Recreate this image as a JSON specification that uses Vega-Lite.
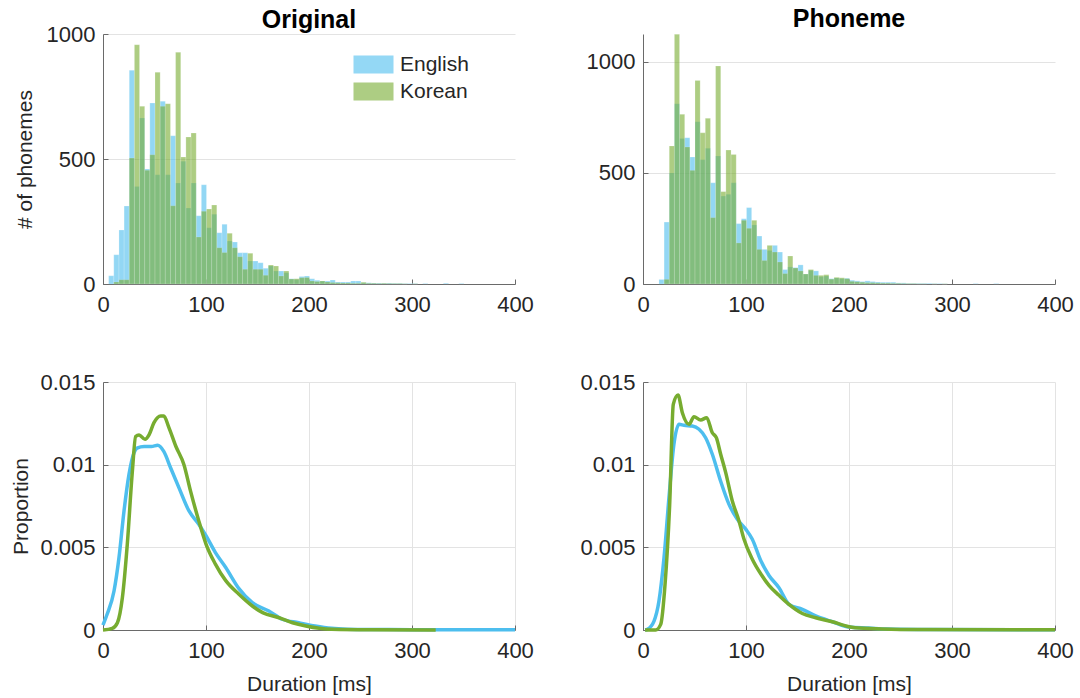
{
  "$schema": "https://vega.github.io/schema/vega-lite/v6.json",
  "padding": {"left": 9, "top": 7, "right": 5, "bottom": 5},
  "background": "white",
  "bounds": "flush",
  "columns": 2,
  "spacing": {"row": 98, "column": 128},
  "resolve": {"scale": {"x": "independent", "y": "independent"}, "legend": {"color": "independent"}},
  "config": {
    "font": "Liberation Sans",
    "view": {"stroke": null},
    "axis": {
      "labelFontSize": 22, "titleFontSize": 21, "labelColor": "#262626", "titleColor": "#262626",
      "titleFontWeight": "normal", "gridColor": "#e3e3e3", "domainColor": "#6a6a6a", "domainWidth": 1,
      "ticks": true, "tickSize": -5, "tickColor": "#6a6a6a", "labelFlush": false, "labelOverlap": false
    },
    "axisX": {"labelPadding": 15, "titlePadding": 12},
    "axisY": {"labelPadding": 13},
    "title": {"fontSize": 25, "fontWeight": "bold", "color": "#000000"}
  },
  "datasets": {
    "hist": [
      {"p":"O","l":"English","a":5,"b":10,"n":33},
      {"p":"O","l":"English","a":10,"b":15,"n":117},
      {"p":"O","l":"English","a":15,"b":20,"n":216},
      {"p":"O","l":"English","a":20,"b":25,"n":312},
      {"p":"O","l":"English","a":25,"b":30,"n":855},
      {"p":"O","l":"English","a":30,"b":35,"n":390},
      {"p":"O","l":"English","a":35,"b":40,"n":664},
      {"p":"O","l":"English","a":40,"b":45,"n":460},
      {"p":"O","l":"English","a":45,"b":50,"n":724},
      {"p":"O","l":"English","a":50,"b":55,"n":437},
      {"p":"O","l":"English","a":55,"b":60,"n":731},
      {"p":"O","l":"English","a":60,"b":65,"n":437},
      {"p":"O","l":"English","a":65,"b":70,"n":593},
      {"p":"O","l":"English","a":70,"b":75,"n":404},
      {"p":"O","l":"English","a":75,"b":80,"n":491},
      {"p":"O","l":"English","a":80,"b":85,"n":304},
      {"p":"O","l":"English","a":85,"b":90,"n":404},
      {"p":"O","l":"English","a":90,"b":95,"n":273},
      {"p":"O","l":"English","a":95,"b":100,"n":397},
      {"p":"O","l":"English","a":100,"b":105,"n":225},
      {"p":"O","l":"English","a":105,"b":110,"n":279},
      {"p":"O","l":"English","a":110,"b":115,"n":205},
      {"p":"O","l":"English","a":115,"b":120,"n":239},
      {"p":"O","l":"English","a":120,"b":125,"n":172},
      {"p":"O","l":"English","a":125,"b":130,"n":168},
      {"p":"O","l":"English","a":130,"b":135,"n":125},
      {"p":"O","l":"English","a":135,"b":140,"n":125},
      {"p":"O","l":"English","a":140,"b":145,"n":92},
      {"p":"O","l":"English","a":145,"b":150,"n":92},
      {"p":"O","l":"English","a":150,"b":155,"n":85},
      {"p":"O","l":"English","a":155,"b":160,"n":63},
      {"p":"O","l":"English","a":160,"b":165,"n":72},
      {"p":"O","l":"English","a":165,"b":170,"n":52},
      {"p":"O","l":"English","a":170,"b":175,"n":52},
      {"p":"O","l":"English","a":175,"b":180,"n":45},
      {"p":"O","l":"English","a":180,"b":185,"n":21},
      {"p":"O","l":"English","a":185,"b":190,"n":18},
      {"p":"O","l":"English","a":190,"b":195,"n":30},
      {"p":"O","l":"English","a":195,"b":200,"n":32},
      {"p":"O","l":"English","a":200,"b":205,"n":21},
      {"p":"O","l":"English","a":205,"b":210,"n":15},
      {"p":"O","l":"English","a":210,"b":215,"n":12},
      {"p":"O","l":"English","a":215,"b":220,"n":12},
      {"p":"O","l":"English","a":220,"b":225,"n":16},
      {"p":"O","l":"English","a":225,"b":230,"n":8},
      {"p":"O","l":"English","a":230,"b":235,"n":8},
      {"p":"O","l":"English","a":235,"b":240,"n":8},
      {"p":"O","l":"English","a":240,"b":245,"n":12},
      {"p":"O","l":"English","a":245,"b":250,"n":12},
      {"p":"O","l":"English","a":250,"b":255,"n":5},
      {"p":"O","l":"English","a":255,"b":260,"n":5},
      {"p":"O","l":"English","a":260,"b":265,"n":4},
      {"p":"O","l":"English","a":265,"b":270,"n":4},
      {"p":"O","l":"English","a":270,"b":275,"n":3},
      {"p":"O","l":"English","a":275,"b":280,"n":4},
      {"p":"O","l":"English","a":280,"b":285,"n":3},
      {"p":"O","l":"English","a":285,"b":290,"n":3},
      {"p":"O","l":"English","a":290,"b":295,"n":2},
      {"p":"O","l":"English","a":295,"b":300,"n":2},
      {"p":"O","l":"English","a":300,"b":305,"n":2},
      {"p":"O","l":"English","a":310,"b":315,"n":2},
      {"p":"O","l":"English","a":330,"b":335,"n":3},
      {"p":"O","l":"English","a":345,"b":350,"n":2},
      {"p":"O","l":"Korean","a":10,"b":15,"n":8},
      {"p":"O","l":"Korean","a":15,"b":20,"n":17},
      {"p":"O","l":"Korean","a":20,"b":25,"n":17},
      {"p":"O","l":"Korean","a":25,"b":30,"n":504},
      {"p":"O","l":"Korean","a":30,"b":35,"n":957},
      {"p":"O","l":"Korean","a":35,"b":40,"n":711},
      {"p":"O","l":"Korean","a":40,"b":45,"n":455},
      {"p":"O","l":"Korean","a":45,"b":50,"n":517},
      {"p":"O","l":"Korean","a":50,"b":55,"n":847},
      {"p":"O","l":"Korean","a":55,"b":60,"n":711},
      {"p":"O","l":"Korean","a":60,"b":65,"n":721},
      {"p":"O","l":"Korean","a":65,"b":70,"n":313},
      {"p":"O","l":"Korean","a":70,"b":75,"n":927},
      {"p":"O","l":"Korean","a":75,"b":80,"n":508},
      {"p":"O","l":"Korean","a":80,"b":85,"n":588},
      {"p":"O","l":"Korean","a":85,"b":90,"n":604},
      {"p":"O","l":"Korean","a":90,"b":95,"n":188},
      {"p":"O","l":"Korean","a":95,"b":100,"n":291},
      {"p":"O","l":"Korean","a":100,"b":105,"n":300},
      {"p":"O","l":"Korean","a":105,"b":110,"n":316},
      {"p":"O","l":"Korean","a":110,"b":115,"n":145},
      {"p":"O","l":"Korean","a":115,"b":120,"n":126},
      {"p":"O","l":"Korean","a":120,"b":125,"n":203},
      {"p":"O","l":"Korean","a":125,"b":130,"n":145},
      {"p":"O","l":"Korean","a":130,"b":135,"n":109},
      {"p":"O","l":"Korean","a":135,"b":140,"n":59},
      {"p":"O","l":"Korean","a":140,"b":145,"n":123},
      {"p":"O","l":"Korean","a":145,"b":150,"n":59},
      {"p":"O","l":"Korean","a":150,"b":155,"n":59},
      {"p":"O","l":"Korean","a":155,"b":160,"n":35},
      {"p":"O","l":"Korean","a":160,"b":165,"n":76},
      {"p":"O","l":"Korean","a":165,"b":170,"n":72},
      {"p":"O","l":"Korean","a":170,"b":175,"n":32},
      {"p":"O","l":"Korean","a":175,"b":180,"n":52},
      {"p":"O","l":"Korean","a":180,"b":185,"n":20},
      {"p":"O","l":"Korean","a":185,"b":190,"n":21},
      {"p":"O","l":"Korean","a":190,"b":195,"n":25},
      {"p":"O","l":"Korean","a":195,"b":200,"n":26},
      {"p":"O","l":"Korean","a":200,"b":205,"n":12},
      {"p":"O","l":"Korean","a":205,"b":210,"n":10},
      {"p":"O","l":"Korean","a":210,"b":215,"n":12},
      {"p":"O","l":"Korean","a":215,"b":220,"n":8},
      {"p":"O","l":"Korean","a":220,"b":225,"n":6},
      {"p":"O","l":"Korean","a":225,"b":230,"n":5},
      {"p":"O","l":"Korean","a":230,"b":235,"n":4},
      {"p":"O","l":"Korean","a":235,"b":240,"n":4},
      {"p":"O","l":"Korean","a":240,"b":245,"n":3},
      {"p":"O","l":"Korean","a":245,"b":250,"n":3},
      {"p":"O","l":"Korean","a":250,"b":255,"n":7},
      {"p":"O","l":"Korean","a":255,"b":260,"n":3},
      {"p":"O","l":"Korean","a":260,"b":265,"n":3},
      {"p":"O","l":"Korean","a":265,"b":270,"n":2},
      {"p":"O","l":"Korean","a":270,"b":275,"n":3},
      {"p":"O","l":"Korean","a":275,"b":280,"n":2},
      {"p":"O","l":"Korean","a":280,"b":285,"n":2},
      {"p":"O","l":"Korean","a":285,"b":290,"n":2},
      {"p":"O","l":"Korean","a":290,"b":295,"n":1},
      {"p":"O","l":"Korean","a":300,"b":305,"n":1},
      {"p":"P","l":"English","a":15,"b":20,"n":20},
      {"p":"P","l":"English","a":20,"b":25,"n":279},
      {"p":"P","l":"English","a":25,"b":30,"n":500},
      {"p":"P","l":"English","a":30,"b":35,"n":812},
      {"p":"P","l":"English","a":35,"b":40,"n":655},
      {"p":"P","l":"English","a":40,"b":45,"n":659},
      {"p":"P","l":"English","a":45,"b":50,"n":572},
      {"p":"P","l":"English","a":50,"b":55,"n":731},
      {"p":"P","l":"English","a":55,"b":60,"n":560},
      {"p":"P","l":"English","a":60,"b":65,"n":611},
      {"p":"P","l":"English","a":65,"b":70,"n":456},
      {"p":"P","l":"English","a":70,"b":75,"n":577},
      {"p":"P","l":"English","a":75,"b":80,"n":396},
      {"p":"P","l":"English","a":80,"b":85,"n":404},
      {"p":"P","l":"English","a":85,"b":90,"n":456},
      {"p":"P","l":"English","a":90,"b":95,"n":272},
      {"p":"P","l":"English","a":95,"b":100,"n":294},
      {"p":"P","l":"English","a":100,"b":105,"n":344},
      {"p":"P","l":"English","a":105,"b":110,"n":266},
      {"p":"P","l":"English","a":110,"b":115,"n":216},
      {"p":"P","l":"English","a":115,"b":120,"n":156},
      {"p":"P","l":"English","a":120,"b":125,"n":151},
      {"p":"P","l":"English","a":125,"b":130,"n":174},
      {"p":"P","l":"English","a":130,"b":135,"n":144},
      {"p":"P","l":"English","a":135,"b":140,"n":65},
      {"p":"P","l":"English","a":140,"b":145,"n":77},
      {"p":"P","l":"English","a":145,"b":150,"n":74},
      {"p":"P","l":"English","a":150,"b":155,"n":86},
      {"p":"P","l":"English","a":155,"b":160,"n":45},
      {"p":"P","l":"English","a":160,"b":165,"n":61},
      {"p":"P","l":"English","a":165,"b":170,"n":59},
      {"p":"P","l":"English","a":170,"b":175,"n":33},
      {"p":"P","l":"English","a":175,"b":180,"n":36},
      {"p":"P","l":"English","a":180,"b":185,"n":24},
      {"p":"P","l":"English","a":185,"b":190,"n":27},
      {"p":"P","l":"English","a":190,"b":195,"n":24},
      {"p":"P","l":"English","a":195,"b":200,"n":26},
      {"p":"P","l":"English","a":200,"b":205,"n":17},
      {"p":"P","l":"English","a":205,"b":210,"n":14},
      {"p":"P","l":"English","a":210,"b":215,"n":11},
      {"p":"P","l":"English","a":215,"b":220,"n":14},
      {"p":"P","l":"English","a":220,"b":225,"n":11},
      {"p":"P","l":"English","a":225,"b":230,"n":9},
      {"p":"P","l":"English","a":230,"b":235,"n":8},
      {"p":"P","l":"English","a":235,"b":240,"n":8},
      {"p":"P","l":"English","a":240,"b":245,"n":8},
      {"p":"P","l":"English","a":245,"b":250,"n":5},
      {"p":"P","l":"English","a":250,"b":255,"n":5},
      {"p":"P","l":"English","a":255,"b":260,"n":3},
      {"p":"P","l":"English","a":260,"b":265,"n":3},
      {"p":"P","l":"English","a":265,"b":270,"n":3},
      {"p":"P","l":"English","a":270,"b":275,"n":3},
      {"p":"P","l":"English","a":275,"b":280,"n":3},
      {"p":"P","l":"English","a":280,"b":285,"n":2},
      {"p":"P","l":"English","a":285,"b":290,"n":2},
      {"p":"P","l":"English","a":290,"b":295,"n":1},
      {"p":"P","l":"English","a":320,"b":325,"n":2},
      {"p":"P","l":"English","a":340,"b":345,"n":2},
      {"p":"P","l":"Korean","a":20,"b":25,"n":21},
      {"p":"P","l":"Korean","a":25,"b":30,"n":622},
      {"p":"P","l":"Korean","a":30,"b":35,"n":1125},
      {"p":"P","l":"Korean","a":35,"b":40,"n":764},
      {"p":"P","l":"Korean","a":40,"b":45,"n":617},
      {"p":"P","l":"Korean","a":45,"b":50,"n":512},
      {"p":"P","l":"Korean","a":50,"b":55,"n":917},
      {"p":"P","l":"Korean","a":55,"b":60,"n":681},
      {"p":"P","l":"Korean","a":60,"b":65,"n":746},
      {"p":"P","l":"Korean","a":65,"b":70,"n":299},
      {"p":"P","l":"Korean","a":70,"b":75,"n":982},
      {"p":"P","l":"Korean","a":75,"b":80,"n":416},
      {"p":"P","l":"Korean","a":80,"b":85,"n":603},
      {"p":"P","l":"Korean","a":85,"b":90,"n":583},
      {"p":"P","l":"Korean","a":90,"b":95,"n":185},
      {"p":"P","l":"Korean","a":95,"b":100,"n":287},
      {"p":"P","l":"Korean","a":100,"b":105,"n":251},
      {"p":"P","l":"Korean","a":105,"b":110,"n":287},
      {"p":"P","l":"Korean","a":110,"b":115,"n":156},
      {"p":"P","l":"Korean","a":115,"b":120,"n":106},
      {"p":"P","l":"Korean","a":120,"b":125,"n":174},
      {"p":"P","l":"Korean","a":125,"b":130,"n":144},
      {"p":"P","l":"Korean","a":130,"b":135,"n":99},
      {"p":"P","l":"Korean","a":135,"b":140,"n":47},
      {"p":"P","l":"Korean","a":140,"b":145,"n":126},
      {"p":"P","l":"Korean","a":145,"b":150,"n":72},
      {"p":"P","l":"Korean","a":150,"b":155,"n":59},
      {"p":"P","l":"Korean","a":155,"b":160,"n":45},
      {"p":"P","l":"Korean","a":160,"b":165,"n":65},
      {"p":"P","l":"Korean","a":165,"b":170,"n":39},
      {"p":"P","l":"Korean","a":170,"b":175,"n":39},
      {"p":"P","l":"Korean","a":175,"b":180,"n":42},
      {"p":"P","l":"Korean","a":180,"b":185,"n":22},
      {"p":"P","l":"Korean","a":185,"b":190,"n":30},
      {"p":"P","l":"Korean","a":190,"b":195,"n":28},
      {"p":"P","l":"Korean","a":195,"b":200,"n":24},
      {"p":"P","l":"Korean","a":200,"b":205,"n":12},
      {"p":"P","l":"Korean","a":205,"b":210,"n":10},
      {"p":"P","l":"Korean","a":210,"b":215,"n":8},
      {"p":"P","l":"Korean","a":215,"b":220,"n":6},
      {"p":"P","l":"Korean","a":220,"b":225,"n":6},
      {"p":"P","l":"Korean","a":225,"b":230,"n":5},
      {"p":"P","l":"Korean","a":230,"b":235,"n":4},
      {"p":"P","l":"Korean","a":235,"b":240,"n":4},
      {"p":"P","l":"Korean","a":240,"b":245,"n":3},
      {"p":"P","l":"Korean","a":245,"b":250,"n":3},
      {"p":"P","l":"Korean","a":250,"b":255,"n":2},
      {"p":"P","l":"Korean","a":255,"b":260,"n":2},
      {"p":"P","l":"Korean","a":260,"b":265,"n":2},
      {"p":"P","l":"Korean","a":265,"b":270,"n":1},
      {"p":"P","l":"Korean","a":270,"b":275,"n":1},
      {"p":"P","l":"Korean","a":280,"b":285,"n":1},
      {"p":"P","l":"Korean","a":290,"b":295,"n":1}
    ],
    "dens": [
      {"p":"O","l":"English","x":0,"v":0.0003},
      {"p":"O","l":"English","x":4,"v":0.00095},
      {"p":"O","l":"English","x":10.7,"v":0.00236},
      {"p":"O","l":"English","x":15.5,"v":0.00437},
      {"p":"O","l":"English","x":20.4,"v":0.0072},
      {"p":"O","l":"English","x":25.2,"v":0.0094},
      {"p":"O","l":"English","x":30,"v":0.0107},
      {"p":"O","l":"English","x":33,"v":0.011},
      {"p":"O","l":"English","x":40,"v":0.0111},
      {"p":"O","l":"English","x":47,"v":0.0111},
      {"p":"O","l":"English","x":53,"v":0.01117},
      {"p":"O","l":"English","x":59,"v":0.0108},
      {"p":"O","l":"English","x":65.7,"v":0.0098},
      {"p":"O","l":"English","x":73.8,"v":0.0086},
      {"p":"O","l":"English","x":83.5,"v":0.0072},
      {"p":"O","l":"English","x":93,"v":0.0064},
      {"p":"O","l":"English","x":100,"v":0.0057},
      {"p":"O","l":"English","x":109,"v":0.0047},
      {"p":"O","l":"English","x":119,"v":0.0038},
      {"p":"O","l":"English","x":132,"v":0.0025},
      {"p":"O","l":"English","x":145,"v":0.00165},
      {"p":"O","l":"English","x":161,"v":0.00115},
      {"p":"O","l":"English","x":174,"v":0.00065},
      {"p":"O","l":"English","x":190,"v":0.00044},
      {"p":"O","l":"English","x":206,"v":0.00024},
      {"p":"O","l":"English","x":222,"v":0.0001},
      {"p":"O","l":"English","x":237,"v":0.00005},
      {"p":"O","l":"English","x":260,"v":0.00003},
      {"p":"O","l":"English","x":300,"v":0.00002},
      {"p":"O","l":"English","x":350,"v":0.00001},
      {"p":"O","l":"English","x":400,"v":0.00001},
      {"p":"O","l":"Korean","x":0,"v":0},
      {"p":"O","l":"Korean","x":9,"v":0.0001},
      {"p":"O","l":"Korean","x":14,"v":0.00044},
      {"p":"O","l":"Korean","x":18.8,"v":0.00195},
      {"p":"O","l":"Korean","x":23.6,"v":0.0052},
      {"p":"O","l":"Korean","x":28.5,"v":0.0096},
      {"p":"O","l":"Korean","x":31.7,"v":0.0117},
      {"p":"O","l":"Korean","x":35,"v":0.0118},
      {"p":"O","l":"Korean","x":40.8,"v":0.01153},
      {"p":"O","l":"Korean","x":44.7,"v":0.0118},
      {"p":"O","l":"Korean","x":49.5,"v":0.01254},
      {"p":"O","l":"Korean","x":56,"v":0.01294},
      {"p":"O","l":"Korean","x":59,"v":0.01294},
      {"p":"O","l":"Korean","x":64,"v":0.01224},
      {"p":"O","l":"Korean","x":70.6,"v":0.01113},
      {"p":"O","l":"Korean","x":78.6,"v":0.01},
      {"p":"O","l":"Korean","x":85,"v":0.0084},
      {"p":"O","l":"Korean","x":93,"v":0.0066},
      {"p":"O","l":"Korean","x":100,"v":0.0052},
      {"p":"O","l":"Korean","x":109,"v":0.004},
      {"p":"O","l":"Korean","x":119,"v":0.003},
      {"p":"O","l":"Korean","x":132,"v":0.00216},
      {"p":"O","l":"Korean","x":145,"v":0.00145},
      {"p":"O","l":"Korean","x":155,"v":0.00105},
      {"p":"O","l":"Korean","x":171,"v":0.00074},
      {"p":"O","l":"Korean","x":184,"v":0.00044},
      {"p":"O","l":"Korean","x":197,"v":0.00024},
      {"p":"O","l":"Korean","x":210,"v":0.0001},
      {"p":"O","l":"Korean","x":222,"v":0.00004},
      {"p":"O","l":"Korean","x":260,"v":0.00001},
      {"p":"O","l":"Korean","x":323,"v":0},
      {"p":"P","l":"English","x":2,"v":0},
      {"p":"P","l":"English","x":4.2,"v":0.00004},
      {"p":"P","l":"English","x":10.7,"v":0.00054},
      {"p":"P","l":"English","x":15.5,"v":0.00175},
      {"p":"P","l":"English","x":20.4,"v":0.00437},
      {"p":"P","l":"English","x":25.2,"v":0.008},
      {"p":"P","l":"English","x":30,"v":0.01123},
      {"p":"P","l":"English","x":35,"v":0.01244},
      {"p":"P","l":"English","x":39.8,"v":0.01238},
      {"p":"P","l":"English","x":47.9,"v":0.01234},
      {"p":"P","l":"English","x":54.4,"v":0.01214},
      {"p":"P","l":"English","x":60.8,"v":0.01163},
      {"p":"P","l":"English","x":67.3,"v":0.01063},
      {"p":"P","l":"English","x":75.4,"v":0.009},
      {"p":"P","l":"English","x":83.5,"v":0.0076},
      {"p":"P","l":"English","x":91.6,"v":0.0067},
      {"p":"P","l":"English","x":99.7,"v":0.0061},
      {"p":"P","l":"English","x":106,"v":0.0055},
      {"p":"P","l":"English","x":114.3,"v":0.0042},
      {"p":"P","l":"English","x":122.3,"v":0.0033},
      {"p":"P","l":"English","x":132,"v":0.00256},
      {"p":"P","l":"English","x":141.7,"v":0.00155},
      {"p":"P","l":"English","x":154.7,"v":0.00125},
      {"p":"P","l":"English","x":167.7,"v":0.00085},
      {"p":"P","l":"English","x":183.8,"v":0.0005},
      {"p":"P","l":"English","x":200,"v":0.00018},
      {"p":"P","l":"English","x":219,"v":0.00012},
      {"p":"P","l":"English","x":237,"v":0.00006},
      {"p":"P","l":"English","x":280,"v":0.00003},
      {"p":"P","l":"English","x":400,"v":0.00001},
      {"p":"P","l":"Korean","x":2,"v":0},
      {"p":"P","l":"Korean","x":12.3,"v":0},
      {"p":"P","l":"Korean","x":17.2,"v":0.00034},
      {"p":"P","l":"Korean","x":21.4,"v":0.00276},
      {"p":"P","l":"Korean","x":25.9,"v":0.0076},
      {"p":"P","l":"Korean","x":29.4,"v":0.01365},
      {"p":"P","l":"Korean","x":34,"v":0.01421},
      {"p":"P","l":"Korean","x":38.2,"v":0.01314},
      {"p":"P","l":"Korean","x":44.7,"v":0.01244},
      {"p":"P","l":"Korean","x":49.5,"v":0.0129},
      {"p":"P","l":"Korean","x":56,"v":0.0127},
      {"p":"P","l":"Korean","x":61.8,"v":0.01284},
      {"p":"P","l":"Korean","x":67.3,"v":0.01193},
      {"p":"P","l":"Korean","x":71.2,"v":0.01163},
      {"p":"P","l":"Korean","x":75.4,"v":0.01063},
      {"p":"P","l":"Korean","x":80.3,"v":0.00952},
      {"p":"P","l":"Korean","x":86.7,"v":0.0078},
      {"p":"P","l":"Korean","x":93.2,"v":0.0066},
      {"p":"P","l":"Korean","x":98,"v":0.0055},
      {"p":"P","l":"Korean","x":106,"v":0.0043},
      {"p":"P","l":"Korean","x":114.3,"v":0.0034},
      {"p":"P","l":"Korean","x":122.3,"v":0.0027},
      {"p":"P","l":"Korean","x":132,"v":0.0021},
      {"p":"P","l":"Korean","x":141.7,"v":0.00155},
      {"p":"P","l":"Korean","x":154.7,"v":0.001},
      {"p":"P","l":"Korean","x":167.7,"v":0.00074},
      {"p":"P","l":"Korean","x":183.8,"v":0.0005},
      {"p":"P","l":"Korean","x":200,"v":0.0002},
      {"p":"P","l":"Korean","x":215,"v":0.0001},
      {"p":"P","l":"Korean","x":250,"v":0.00003},
      {"p":"P","l":"Korean","x":400,"v":0.00001}
    ]
  },
  "concat": [
    {
      "title": {"text": "Original", "offset": -10},
      "width": 412, "height": 250,
      "data": {"name": "hist"},
      "transform": [{"filter": "datum.p == 'O'"}],
      "mark": {"type": "bar", "opacity": 0.6, "binSpacing": 0, "stroke": "white", "strokeWidth": 0.4, "strokeOpacity": 0.5},
      "encoding": {
        "x": {"field": "a", "type": "quantitative", "bin": "binned", "scale": {"domain": [0, 400], "nice": false}, "axis": {"values": [0, 100, 200, 300, 400], "format": "d", "title": null}},
        "x2": {"field": "b"},
        "y": {"field": "n", "type": "quantitative", "stack": null, "scale": {"domain": [0, 1000], "nice": false}, "axis": {"values": [0, 500, 1000], "format": "d", "title": "# of phonemes", "titleX": -68}},
        "color": {"field": "l", "type": "nominal", "scale": {"domain": ["English", "Korean"], "range": ["#4DBEEE", "#77AC30"]},
          "legend": {"orient": "none", "legendX": 260, "legendY": 20, "title": null, "symbolType": "M-2,-0.9H2V0.9H-2Z", "symbolSize": 400, "symbolOpacity": 0.6, "symbolStrokeWidth": 0, "labelFontSize": 21, "labelColor": "#262626", "labelOffset": 16, "rowPadding": 5, "padding": 0}}
      }
    },
    {
      "title": {"text": "Phoneme", "offset": 2},
      "width": 412, "height": 250,
      "data": {"name": "hist"},
      "transform": [{"filter": "datum.p == 'P'"}],
      "mark": {"type": "bar", "opacity": 0.6, "binSpacing": 0, "stroke": "white", "strokeWidth": 0.4, "strokeOpacity": 0.5},
      "encoding": {
        "x": {"field": "a", "type": "quantitative", "bin": "binned", "scale": {"domain": [0, 400], "nice": false}, "axis": {"values": [0, 100, 200, 300, 400], "format": "d", "title": null}},
        "x2": {"field": "b"},
        "y": {"field": "n", "type": "quantitative", "stack": null, "scale": {"domain": [0, 1126], "nice": false}, "axis": {"values": [0, 500, 1000], "format": "d", "title": null}},
        "color": {"field": "l", "type": "nominal", "scale": {"domain": ["English", "Korean"], "range": ["#4DBEEE", "#77AC30"]}, "legend": null}
      }
    },
    {
      "width": 412, "height": 248,
      "data": {"name": "dens"},
      "transform": [{"filter": "datum.p == 'O'"}],
      "mark": {"type": "line", "strokeWidth": 3.5, "interpolate": "monotone"},
      "encoding": {
        "x": {"field": "x", "type": "quantitative", "scale": {"domain": [0, 400], "nice": false}, "axis": {"values": [0, 100, 200, 300, 400], "format": "d", "title": "Duration [ms]"}},
        "y": {"field": "v", "type": "quantitative", "scale": {"domain": [0, 0.015], "nice": false}, "axis": {"values": [0, 0.005, 0.01, 0.015], "format": ".3~f", "title": "Proportion", "titleX": -72}},
        "color": {"field": "l", "type": "nominal", "scale": {"domain": ["English", "Korean"], "range": ["#4DBEEE", "#77AC30"]}, "legend": null}
      }
    },
    {
      "width": 412, "height": 248,
      "data": {"name": "dens"},
      "transform": [{"filter": "datum.p == 'P'"}],
      "mark": {"type": "line", "strokeWidth": 3.5, "interpolate": "monotone"},
      "encoding": {
        "x": {"field": "x", "type": "quantitative", "scale": {"domain": [0, 400], "nice": false}, "axis": {"values": [0, 100, 200, 300, 400], "format": "d", "title": "Duration [ms]"}},
        "y": {"field": "v", "type": "quantitative", "scale": {"domain": [0, 0.015], "nice": false}, "axis": {"values": [0, 0.005, 0.01, 0.015], "format": ".3~f", "title": null}},
        "color": {"field": "l", "type": "nominal", "scale": {"domain": ["English", "Korean"], "range": ["#4DBEEE", "#77AC30"]}, "legend": null}
      }
    }
  ]
}
